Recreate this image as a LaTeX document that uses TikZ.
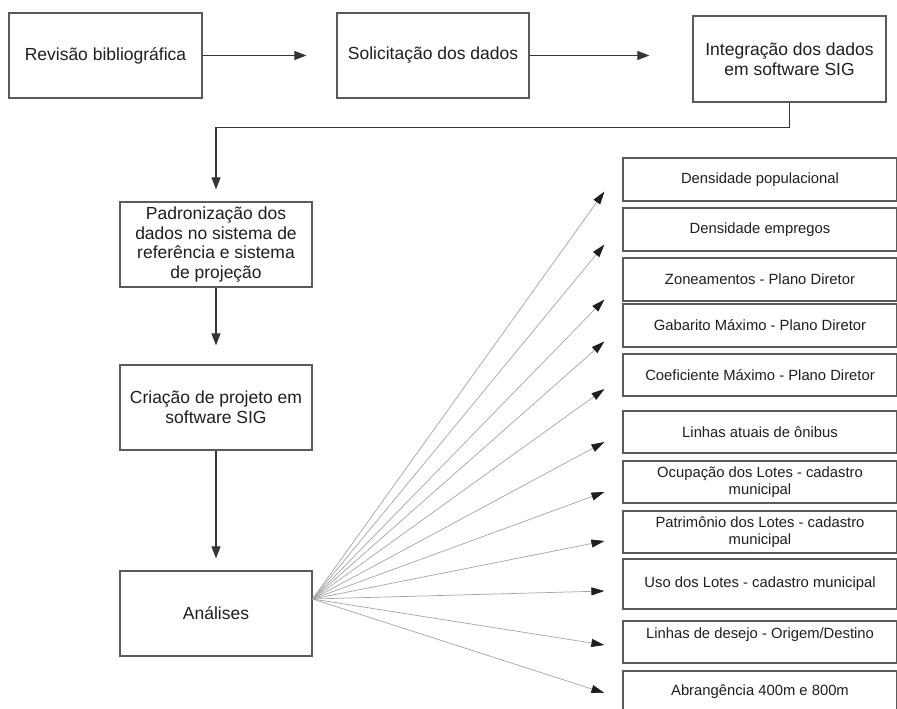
\documentclass[tikz,border=0pt]{standalone}
\usepackage{fontspec}
\setmainfont{Liberation Sans}
\usetikzlibrary{arrows.meta}
\definecolor{edge}{HTML}{5A5A5A}
\definecolor{ink}{HTML}{1E1E1E}
\definecolor{fanline}{HTML}{A3A3A3}
\tikzset{
  every node/.style={text=ink},
  box/.style={draw=edge, line width=1.2pt, align=center, inner sep=3pt,
              minimum width=192pt, minimum height=85pt,
              font=\fontsize{17.5}{19.7}\selectfont},
  item/.style={draw=edge, line width=1.2pt, align=center, inner sep=2pt,
               minimum width=274pt, minimum height=42pt,
               font=\fontsize{14.8}{17}\selectfont},
  flow/.style={-{Triangle[length=12pt, width=9pt]}, line width=1.1pt, draw=ink!90},
  fan/.style={-{Triangle[length=13pt, width=8pt, color=ink]}, line width=0.7pt, draw=fanline},
}

\begin{document}
\begin{tikzpicture}[x=1pt, y=-1pt]
  \useasboundingbox (0,0) rectangle (897,709);

  \node[box, minimum width=193pt] (rev) at (105.5,55.5) {Revisão bibliográfica};
  \node[box] (sol) at (433,55.5) {Solicitação dos dados};
  \node[box, minimum width=193pt, minimum height=86pt] (integ) at (789.5,59) {Integração dos dados\\em software SIG};

  \node[box] (pad)  at (216,244.5) {Padronização dos\\dados no sistema de\\referência e sistema\\de projeção};
  \node[box] (cria) at (216,407.5) {Criação de projeto em\\software SIG};
  \node[box] (ana)  at (216,613.5) {Análises};

  \node[item, minimum height=43pt] (dpop) at (760,179.5) {Densidade populacional};
  \node[item, minimum height=43pt] (demp) at (760,229.5) {Densidade empregos};
  \node[item, minimum height=43pt] (zon)  at (760,279.5) {Zoneamentos - Plano Diretor};
  \node[item, minimum height=43pt] (gab)  at (760,325.5) {Gabarito Máximo - Plano Diretor};
  \node[item] (coef) at (760,375) {Coeficiente Máximo - Plano Diretor};
  \node[item] (lin)  at (760,432) {Linhas atuais de ônibus};
  \node[item] (ocu)  at (760,482) {Ocupação dos Lotes - cadastro\\municipal};
  \node[item] (pat)  at (760,532) {Patrimônio dos Lotes - cadastro\\municipal};
  \node[item, minimum height=50pt] (uso) at (760,584) {Uso dos Lotes - cadastro municipal};
  \node[item, text depth=18pt] (des) at (760,642) {Linhas de desejo - Origem/Destino};
  \node[item] (abr)  at (760,692) {Abrangência 400m e 800m};

  \draw[flow, shorten >=30pt] (rev) -- (sol);
  \draw[flow, shorten >=43pt] (sol) -- (integ.west |- sol.east);
  \draw[flow, shorten >=12pt] (integ.south) -- ++(0,25) -| (pad.north);
  \draw[flow, shorten >=19pt] (pad) -- (cria);
  \draw[flow, shorten >=12pt] (cria) -- (ana);

  \coordinate (src) at ([yshift=14.5pt]ana.east);
  \foreach \b/\dy in {dpop/-12, demp/-15, zon/-20, gab/-16, coef/-14, lin/-10,
                      ocu/-10, pat/-9, uso/-7, des/-3, abr/-1}
    \draw[fan] (src) -- ([xshift=-18pt, yshift=\dy pt]\b.west);
\end{tikzpicture}
\end{document}
